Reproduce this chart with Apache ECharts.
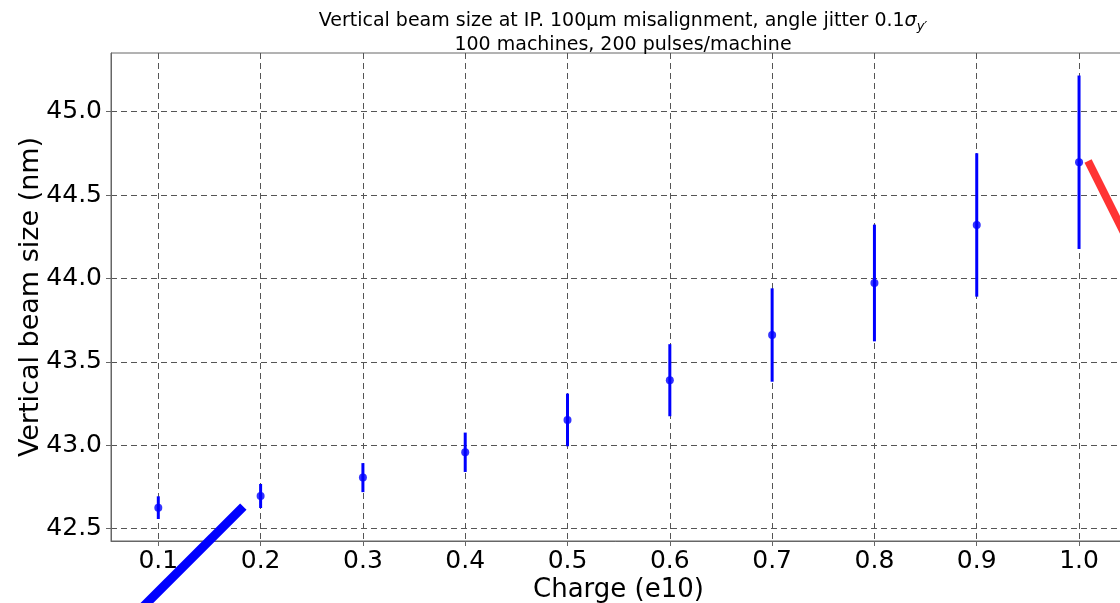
<!DOCTYPE html>
<html><head><meta charset="utf-8">
<script src="https://cdn.jsdelivr.net/npm/echarts@6/dist/echarts.min.js"></script>
<style>html,body{margin:0;padding:0;background:#fff}#c{width:1120px;height:603px}</style>
</head><body><div id="c"></div>
<script>
const charges = [0.1, 0.2, 0.3, 0.4, 0.5, 0.6, 0.7, 0.8, 0.9, 1.0];
const beamSize = [42.626, 42.696, 42.806, 42.958, 43.152, 43.390, 43.661, 43.973, 44.321, 44.697];
const beamErr = [0.068, 0.072, 0.087, 0.118, 0.158, 0.216, 0.280, 0.350, 0.430, 0.520];
const xTicks = [0.1, 0.2, 0.3, 0.4, 0.5, 0.6, 0.7, 0.8, 0.9, 1.0];
const yTicks = [42.5, 43.0, 43.5, 44.0, 44.5, 45.0];
const blueLine = [[0.0723, 41.953], [0.1831, 42.632]];
const redLine = [[1.0088, 44.704], [1.0499, 44.201]];

const FONT = 'DejaVu Sans';
const chart = echarts.init(document.getElementById('c'), null, {renderer: 'canvas'});
const errData = charges.map((c, i) => [c, beamSize[i] - beamErr[i], beamSize[i] + beamErr[i]]);
const ptData = charges.map((c, i) => [c, beamSize[i]]);

chart.setOption({
  animation: false,
  backgroundColor: '#fff',
  title: {
    text: '{a|Vertical beam size at IP. 100µm misalignment, angle jitter 0.1}{s|σ}{sub|y′}\n{a|100 machines, 200 pulses/machine}',
    left: 618, top: 4, textAlign: 'center',
    textStyle: {
      fontFamily: FONT, fontSize: 19, fontWeight: 'normal', color: '#000', lineHeight: 24,
      rich: {
        a: {fontFamily: FONT, fontSize: 19, color: '#000', lineHeight: 24},
        s: {fontFamily: FONT, fontSize: 19, fontStyle: 'italic', color: '#000', lineHeight: 24},
        sub: {fontFamily: FONT, fontSize: 13, fontStyle: 'italic', color: '#000', lineHeight: 24, verticalAlign: 'bottom', padding: [8, 0, 0, 0]}
      }
    }
  },
  grid: {left: 111, top: 53, width: 1015, height: 488, show: true, borderColor: '#666', borderWidth: 1,
    backgroundColor: 'transparent', outerBoundsMode: 'none', containLabel: false},
  xAxis: {
    type: 'value', min: 0.05376, max: 1.0459,
    name: 'Charge (e10)', nameLocation: 'middle', nameGap: 36, nameMoveOverlap: false,
    nameTextStyle: {fontFamily: FONT, fontSize: 26, color: '#000'},
    axisLine: {show: true, lineStyle: {color: '#666', width: 1}},
    axisTick: {show: true, inside: false, length: 5, lineStyle: {color: '#666'}, customValues: xTicks},
    axisLabel: {show: true, fontFamily: FONT, fontSize: 25, color: '#000', margin: 8, customValues: xTicks,
      formatter: v => v.toFixed(1)},
    splitLine: {show: true, lineStyle: {color: '#555', type: [6, 4], width: 1}}
  },
  yAxis: {
    type: 'value', min: 42.426, max: 45.352,
    name: 'Vertical beam size (nm)', nameLocation: 'middle', nameGap: 67, nameMoveOverlap: false,
    nameTextStyle: {fontFamily: FONT, fontSize: 27, color: '#000'},
    axisLine: {show: true, lineStyle: {color: '#666', width: 1}},
    axisTick: {show: true, inside: false, length: 5, lineStyle: {color: '#666'}, customValues: yTicks},
    axisLabel: {show: true, fontFamily: FONT, fontSize: 25, color: '#000', margin: 9, customValues: yTicks,
      formatter: v => v.toFixed(1)},
    splitLine: {show: true, lineStyle: {color: '#555', type: [6, 4], width: 1}}
  },
  series: [
    {
      type: 'custom', data: errData, z: 3,
      renderItem: (params, api) => {
        const p1 = api.coord([api.value(0), api.value(1)]);
        const p2 = api.coord([api.value(0), api.value(2)]);
        return {type: 'line', shape: {x1: p1[0], y1: p1[1], x2: p2[0], y2: p2[1]},
          style: {stroke: '#0000ff', lineWidth: 3}};
      }
    },
    {type: 'scatter', data: ptData, symbol: 'circle', symbolSize: 8, itemStyle: {color: '#0000ff'}, z: 4},
    {type: 'line', data: blueLine, showSymbol: false, symbol: 'none', clip: false, z: 5,
      lineStyle: {color: '#0000ff', width: 9, cap: 'butt'}},
    {type: 'line', data: redLine, showSymbol: false, symbol: 'none', clip: false, z: 5,
      lineStyle: {color: '#ff3333', width: 8, cap: 'butt'}}
  ]
});
</script></body></html>
